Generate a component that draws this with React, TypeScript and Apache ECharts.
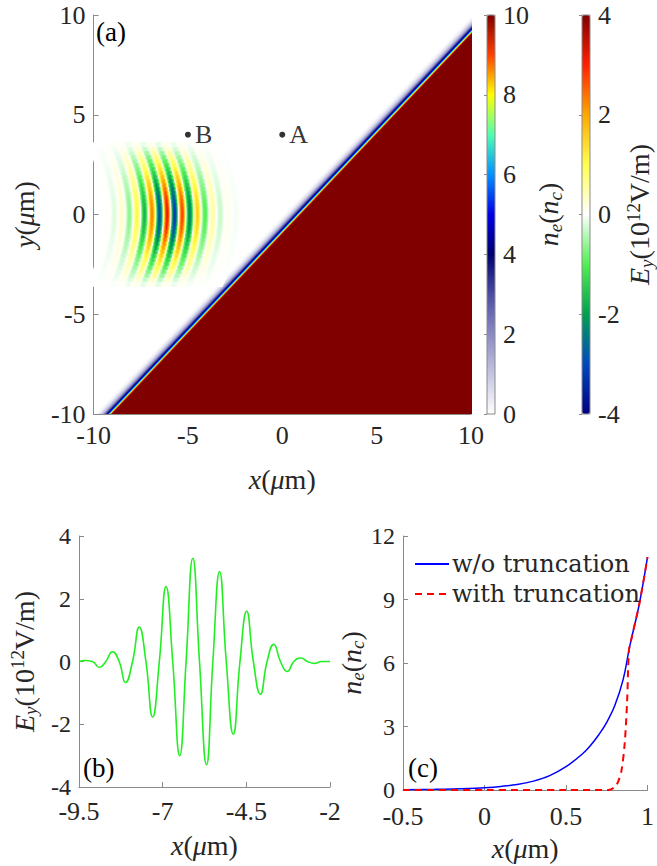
import React, { useEffect, useRef } from 'react';
import * as echarts from 'echarts';

// ---------- Panel (b): E_y lineout at y = 0 (extrema and zero crossings)
const fieldX = [-9.5, -9.32, -9.1, -8.89, -8.7, -8.5, -8.3, -8.11, -7.9, -7.7, -7.5, -7.3, -7.1, -6.9, -6.7, -6.49, -6.3, -6.1, -5.9, -5.69, -5.5, -5.3, -5.1, -4.89, -4.69, -4.49, -4.29, -4.08, -3.88, -3.68, -3.48, -3.28, -3.08, -2.87, -2.67, -2.47, -2.25, -2.0];
const fieldY = [0, 0.03, 0, -0.19, 0, 0.31, 0, -0.67, 0, 1.1, 0, -1.77, 0, 2.39, 0, -3.0, 0, 3.29, 0, -3.29, 0, 2.87, 0, -2.32, 0, 1.6, 0, -1.04, 0, 0.55, 0, -0.32, 0, 0.11, 0, -0.06, 0, 0];

const envY = [0, 0.2, 0.4, 0.6, 0.8, 1.0, 1.2, 1.4, 1.6, 1.8, 2.0, 2.2, 2.4, 2.6, 2.8, 3.0, 3.2, 3.4, 3.6];
const envAmp = [1, 0.99, 0.97, 0.94, 0.9, 0.85, 0.79, 0.73, 0.66, 0.6, 0.53, 0.46, 0.4, 0.34, 0.28, 0.22, 0.15, 0.08, 0.02];
const envShift = [0, 0.003, 0.011, 0.025, 0.045, 0.07, 0.1, 0.14, 0.18, 0.23, 0.28, 0.34, 0.4, 0.47, 0.55, 0.63, 0.72, 0.81, 0.91];

// ---------- Panel (a): target density near the oblique surface (x - y = surfaceIntercept)
const surfaceIntercept = 0.97;
const edgeOffset = [0.9, 0.8, 0.7, 0.62, 0.55, 0.48, 0.42, 0.36, 0.31, 0.27, 0.23, 0.19, 0.15, 0.11, 0.07, 0.03, 0];
const edgeDensity = [0.05, 0.2, 0.45, 0.75, 1.1, 1.6, 2.2, 2.9, 3.6, 4.2, 5.0, 5.8, 6.8, 7.9, 8.9, 9.6, 10];

// observation points
const pointNames = ['A', 'B'];
const pointX = [0, -5];
const pointY = [4, 4];

// ---------- Panel (c): density profiles
const profX = [-0.5, -0.3, -0.1, 0, 0.1, 0.2, 0.3, 0.4, 0.5, 0.6, 0.65, 0.7, 0.75, 0.8, 0.85, 0.886, 0.9, 0.95, 1.0];
const profNoTrunc = [0.01, 0.03, 0.07, 0.11, 0.17, 0.26, 0.42, 0.68, 1.1, 1.7, 2.1, 2.6, 3.2, 4.0, 5.2, 6.6, 7.1, 8.8, 11.0];
const truncX = [-0.5, 0.0, 0.5, 0.76, 0.8, 0.82, 0.84, 0.86, 0.875, 0.886, 0.9, 0.95, 1.0];
const truncY = [0, 0, 0, 0, 0.15, 0.4, 0.9, 2.2, 4.2, 6.6, 7.1, 8.8, 11.0];

// colour maps
const densityColors = ['#ffffff', '#c4c4e2', '#8a8ac4', '#4c4ca4', '#00006e', '#0000e6', '#0090ff', '#50ffb0', '#ffff00', '#ff4000', '#800000'];
const fieldColors = ['#00007f', '#0048c0', '#00a050', '#50f050', '#ffffff', '#ffff50', '#ffa800', '#ff2000', '#800000'];

const FONT = 'Liberation Serif';
const LEGEND_FONT = 'DejaVu Serif';
const TXT = '#262626';
const AX = '#8a8a8a';

function hexToRgb(h: string) {
  const n = parseInt(h.slice(1), 16);
  return [(n >> 16) & 255, (n >> 8) & 255, n & 255];
}
function cmap(v: number, min: number, max: number, colors: string[]) {
  let t = (v - min) / (max - min);
  t = Math.max(0, Math.min(1, t));
  const p = t * (colors.length - 1);
  const i = Math.min(colors.length - 2, Math.floor(p));
  const f = p - i;
  const a = hexToRgb(colors[i]);
  const b = hexToRgb(colors[i + 1]);
  const c = a.map((x, k) => Math.round(x + (b[k] - x) * f));
  return `rgb(${c[0]},${c[1]},${c[2]})`;
}

const rich = {
  i: { fontFamily: FONT, fontSize: 28, fontStyle: 'italic', color: TXT, lineHeight: 32 },
  sub: { fontFamily: FONT, fontSize: 19, fontStyle: 'italic', color: TXT, verticalAlign: 'bottom', lineHeight: 16 },
  sup: { fontFamily: FONT, fontSize: 19, color: TXT, verticalAlign: 'top', lineHeight: 16 },
};
const nameStyle = { fontFamily: FONT, fontSize: 28, color: TXT, lineHeight: 32, rich };

function axis(extra: any) {
  return {
    type: 'value',
    axisLine: { show: true, onZero: false, lineStyle: { color: AX, width: 1 } },
    axisTick: { show: true, inside: true, length: 5, lineStyle: { color: AX } },
    axisLabel: { color: TXT, fontFamily: FONT, fontSize: 26, lineHeight: 20, margin: 8 },
    splitLine: { show: false },
    nameLocation: 'middle',
    nameTextStyle: nameStyle,
    ...extra,
  };
}
const xLabel = (extra: any = {}) => ({ color: TXT, fontFamily: FONT, fontSize: 26, lineHeight: 20, margin: 11, ...extra });
const yLabelSmall = { color: TXT, fontFamily: FONT, fontSize: 24, lineHeight: 20, margin: 8, padding: [0, 0, 6, 0] };

export default function App() {
  const ref = useRef<HTMLDivElement>(null);
  useEffect(() => {
    const chart = echarts.init(ref.current!, null, { renderer: 'svg' });

    const densityData = edgeOffset.map((d, i) => [d, edgeDensity[i]]);

    const packetData: number[][] = [];
    for (let k = 1; k < fieldX.length - 1; k++) {
      if (fieldY[k] === 0) continue;
      for (let m = 0; m < envY.length - 1; m++) {
        const amp = (envAmp[m] + envAmp[m + 1]) / 2;
        for (const s of [1, -1]) {
          packetData.push([fieldX[k], s * (envY[m] + envY[m + 1]) / 2, fieldY[k] * amp, fieldX[k - 1], fieldX[k + 1], s * envY[m], s * envY[m + 1], -envShift[m], -envShift[m + 1]]);
        }
      }
    }

    const profile = [0, 0.5, 0.85, 1, 0.85, 0.5, 0];
    const offs = [0, 0.17, 0.33, 0.5, 0.67, 0.83, 1];

    const option: any = {
      animation: false,
      backgroundColor: '#ffffff',
      grid: [
        { left: 90, top: 15, width: 381, height: 399 },
        { left: 487, top: 15, width: 8, height: 399, show: true, borderColor: AX, borderWidth: 1, z: 10 },
        { left: 582, top: 15, width: 8, height: 399, show: true, borderColor: AX, borderWidth: 1, z: 10 },
        { left: 79, top: 536, width: 251, height: 251 },
        { left: 403, top: 536, width: 251, height: 254 },
      ],
      xAxis: [
        axis({ gridIndex: 0, min: -10, max: 10, interval: 5, name: '{i|x}({i|μ}m)', nameGap: 49, axisLabel: xLabel() }),
        { gridIndex: 1, type: 'value', show: false, min: 0, max: 1 },
        { gridIndex: 2, type: 'value', show: false, min: 0, max: 1 },
        axis({ gridIndex: 3, min: -9.5, max: -2, name: '{i|x}({i|μ}m)', nameGap: 42,
          axisLabel: xLabel({ margin: 14, customValues: [-9.5, -7, -4.5, -2] }),
          axisTick: { show: true, inside: true, length: 5, lineStyle: { color: AX }, customValues: [-9.5, -7, -4.5, -2] } }),
        axis({ gridIndex: 4, min: -0.5, max: 1, interval: 0.5, name: '{i|x}({i|μ}m)', nameGap: 42, axisLabel: xLabel({ margin: 16 }) }),
      ],
      yAxis: [
        axis({ gridIndex: 0, min: -10, max: 10, interval: 5, name: '{i|y}({i|μ}m)', nameGap: 46, nameRotate: 90 }),
        axis({ gridIndex: 1, min: 0, max: 10, interval: 2, position: 'right', axisLine: { show: false },
          axisTick: { show: true, inside: true, length: 3, lineStyle: { color: AX } },
          name: '{i|n}{sub|e}({i|n}{sub|c})', nameGap: 36, nameRotate: 90 }),
        axis({ gridIndex: 2, min: -4, max: 4, interval: 2, position: 'right', axisLine: { show: false },
          axisTick: { show: true, inside: true, length: 3, lineStyle: { color: AX } },
          name: '{i|E}{sub|y}(10{sup|12}V/m)', nameGap: 30, nameRotate: 90 }),
        axis({ gridIndex: 3, min: -4, max: 4, interval: 2, name: '{i|E}{sub|y}(10{sup|12}V/m)', nameGap: 39, nameRotate: 90, axisLabel: yLabelSmall }),
        axis({ gridIndex: 4, min: 0, max: 12, interval: 3, name: '{i|n}{sub|e}({i|n}{sub|c})', nameGap: 32, nameRotate: 90, axisLabel: yLabelSmall }),
      ],
      visualMap: [
        { type: 'continuous', seriesIndex: 0, dimension: 1, min: 0, max: 10, inRange: { color: densityColors },
          left: 487, top: 15, itemWidth: 8, itemHeight: 399, calculable: false, padding: 0, hoverLink: false, orient: 'vertical' },
        { type: 'continuous', seriesIndex: 1, dimension: 2, min: -4, max: 4, inRange: { color: fieldColors },
          left: 582, top: 15, itemWidth: 8, itemHeight: 399, calculable: false, padding: 0, hoverLink: false, orient: 'vertical' },
      ],
      legend: {
        left: 409, top: 547, orient: 'vertical', itemWidth: 34, itemHeight: 14, itemGap: 6,
        data: ['w/o truncation', 'with truncation'],
        itemStyle: { opacity: 0 },
        textStyle: { fontFamily: LEGEND_FONT, fontSize: 24, color: TXT, padding: [0, 0, 0, -2] },
      },
      graphic: [
        { type: 'text', left: 96, top: 18, z: 100, style: { text: '(a)', fontFamily: FONT, fontSize: 27, fill: '#000' } },
        { type: 'text', left: 83, top: 754, z: 100, style: { text: '(b)', fontFamily: FONT, fontSize: 27, fill: '#000' } },
        { type: 'text', left: 408, top: 754, z: 100, style: { text: '(c)', fontFamily: FONT, fontSize: 27, fill: '#000' } },
      ],
      series: [
        {
          type: 'custom', name: 'density', xAxisIndex: 0, yAxisIndex: 0, clip: true, silent: true,
          data: densityData,
          renderItem: (params: any, api: any) => {
            const d = api.value(0);
            const pts = [[-11 + surfaceIntercept - d, -11], [11 + surfaceIntercept - d, 11], [13, 11], [13, -11]].map((p) => api.coord(p));
            return { type: 'polygon', shape: { points: pts }, style: { fill: api.visual('color'), stroke: null } };
          },
        },
        {
          type: 'custom', name: 'field', xAxisIndex: 0, yAxisIndex: 0, silent: true,
          data: packetData,
          renderItem: (params: any, api: any) => {
            const v = api.value(2);
            const xl = api.value(3), xr = api.value(4);
            let y1 = api.value(5), y2 = api.value(6);
            const s1 = api.value(7), s2 = api.value(8);
            const ov = 0.03;
            if (y2 > y1) { y1 -= ov; y2 += ov; } else { y1 += ov; y2 -= ov; }
            const pts = [api.coord([xl + s1, y1]), api.coord([xr + s1, y1]), api.coord([xr + s2, y2]), api.coord([xl + s2, y2])];
            const stops = profile.map((p, i) => ({ offset: offs[i], color: cmap(v * p, -4, 4, fieldColors) }));
            return {
              type: 'polygon', shape: { points: pts },
              style: { fill: { type: 'linear', x: 0, y: 0, x2: 1, y2: 0, colorStops: stops }, stroke: null },
            };
          },
        },
        {
          type: 'scatter', name: 'points', xAxisIndex: 0, yAxisIndex: 0, symbolSize: 6, z: 5,
          itemStyle: { color: '#000' },
          data: pointNames.map((n, i) => ({ name: n, value: [pointX[i], pointY[i]] })),
          label: { show: true, position: 'right', distance: 4, formatter: '{b}', fontFamily: FONT, fontSize: 26, color: '#000' },
        },
        {
          type: 'line', name: 'Ey', xAxisIndex: 3, yAxisIndex: 3, smooth: 0.5, symbol: 'none',
          lineStyle: { color: '#22ee22', width: 1.6 },
          data: fieldX.map((x, i) => [x, fieldY[i]]),
        },
        {
          type: 'line', name: 'w/o truncation', xAxisIndex: 4, yAxisIndex: 4, smooth: 0.4, symbol: 'none',
          lineStyle: { color: '#0000ff', width: 1.5 }, itemStyle: { color: '#0000ff' },
          data: profX.map((x, i) => [x, profNoTrunc[i]]),
        },
        {
          type: 'line', name: 'with truncation', xAxisIndex: 4, yAxisIndex: 4, smooth: 0.3, symbol: 'none', z: 3,
          lineStyle: { color: '#ff0000', width: 2, type: [7, 5] }, itemStyle: { color: '#ff0000' },
          data: truncX.map((x, i) => [x, truncY[i]]),
        },
      ],
    };

    chart.setOption(option);
    return () => chart.dispose();
  }, []);

  return <div ref={ref} style={{ position: 'fixed', left: 0, top: 0, width: 657, height: 866, background: '#fff' }} />;
}
